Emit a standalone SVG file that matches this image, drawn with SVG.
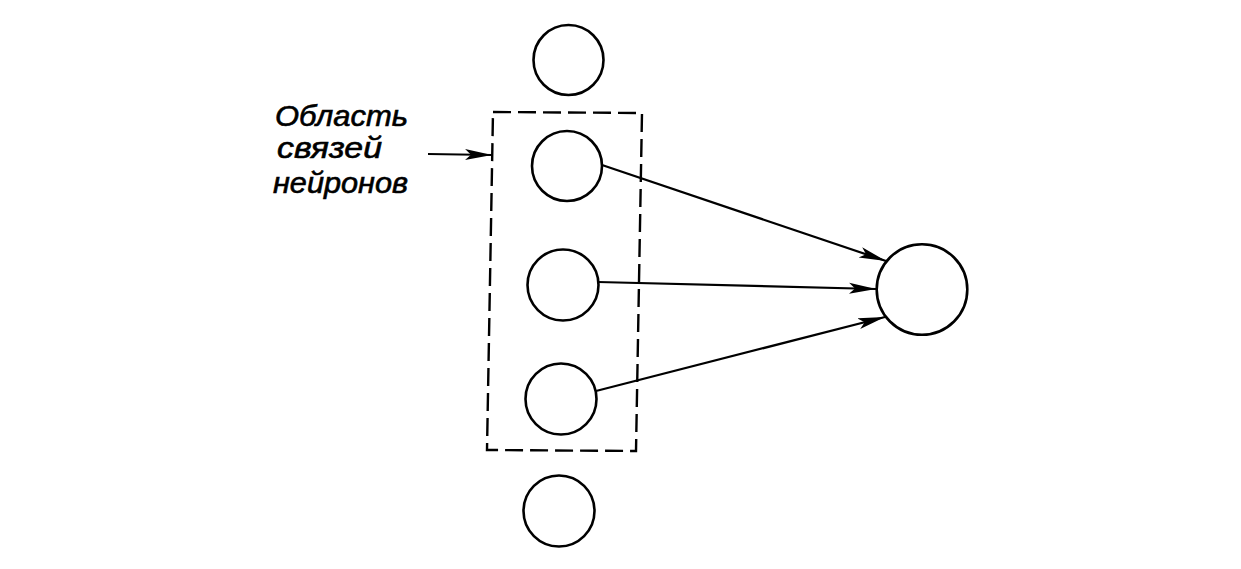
<svg xmlns="http://www.w3.org/2000/svg" width="1241" height="569" viewBox="0 0 1241 569">
<style>
.node{fill:#fff;stroke:#000;stroke-width:2.6}
.box{fill:none;stroke:#000;stroke-width:2.4;stroke-dasharray:18 7}
.edge{fill:none;stroke:#000;stroke-width:2.2}
.lbl{font-family:"Liberation Sans",Arial,sans-serif;font-style:italic;font-size:29px;fill:#000;stroke:#000;stroke-width:0.6}
</style>
<defs>
<marker id="ah" markerUnits="userSpaceOnUse" markerWidth="30" markerHeight="14" refX="27" refY="6" orient="auto">
<path d="M0,0.5 L27,6 L0,11.5 L6,6 Z" fill="#000"/>
</marker>
</defs>
<rect width="1241" height="569" fill="#fff"/>
<g id="region">
<polygon class="box" points="493,112 642,113 636,451 487,450"/>
</g>
<g id="label">
<text class="lbl" x="275" y="126" textLength="133" lengthAdjust="spacingAndGlyphs">Область</text>
<text class="lbl" x="277" y="158" textLength="105" lengthAdjust="spacingAndGlyphs">связей</text>
<text class="lbl" x="273" y="193" textLength="135" lengthAdjust="spacingAndGlyphs">нейронов</text>
</g>
<g id="n1"><circle class="node" cx="568.5" cy="60" r="35"/></g>
<g id="n2"><circle class="node" cx="567" cy="166" r="35"/></g>
<g id="n3"><circle class="node" cx="563" cy="285" r="35.5"/></g>
<g id="n4"><circle class="node" cx="561" cy="399" r="35.5"/></g>
<g id="n5"><circle class="node" cx="559" cy="511" r="35.5"/></g>
<g id="out"><circle class="node" cx="922" cy="289.5" r="45.3"/></g>
<g id="connectors">
<line class="edge" x1="428" y1="154" x2="492" y2="155" marker-end="url(#ah)"/>
<line class="edge" x1="602" y1="165" x2="886" y2="261" marker-end="url(#ah)"/>
<line class="edge" x1="598" y1="282" x2="876" y2="289" marker-end="url(#ah)"/>
<line class="edge" x1="596" y1="391" x2="885" y2="317" marker-end="url(#ah)"/>
</g>
</svg>
